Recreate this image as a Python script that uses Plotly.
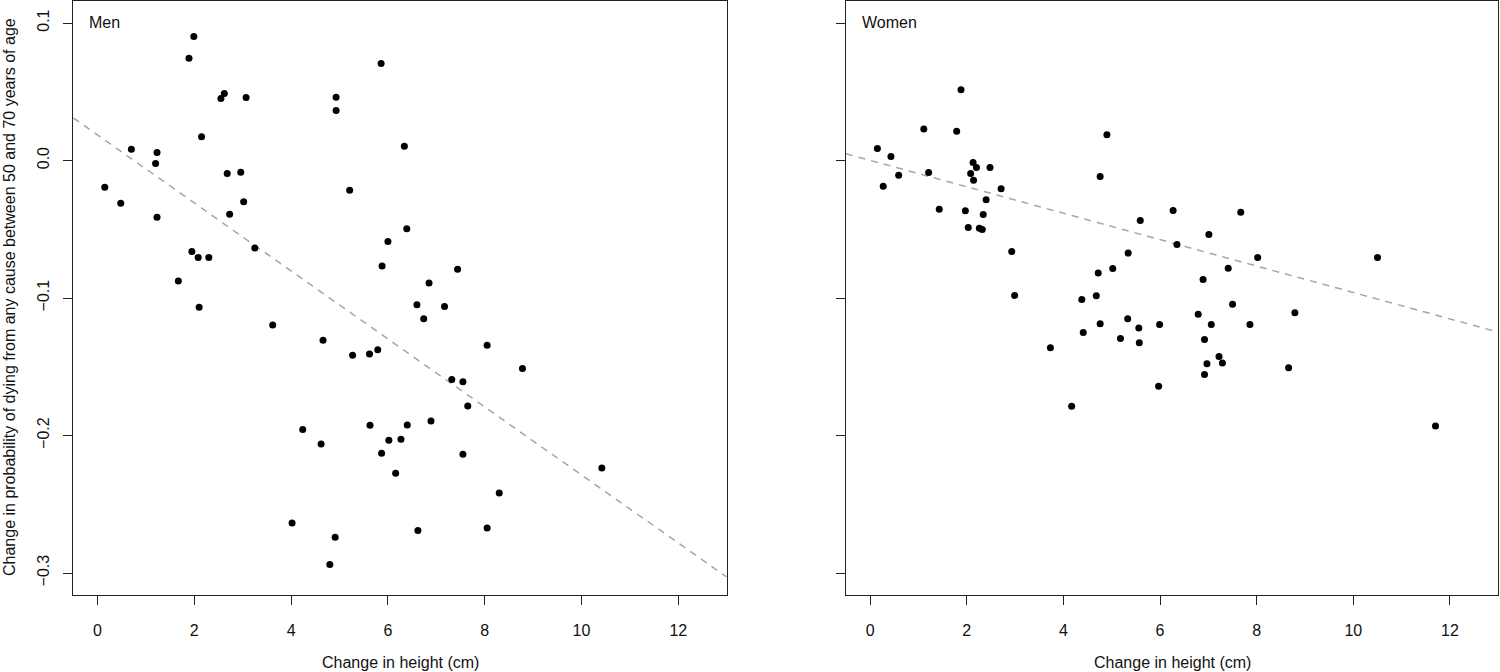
import plotly.graph_objects as go

# ---------------- data ----------------
men_height = [0.15, 0.48, 0.70, 1.23, 1.20, 1.23, 1.89, 1.99, 2.15, 2.55, 2.62, 3.07,
              2.68, 2.96, 3.02, 2.73, 3.25, 1.95, 2.08, 2.30, 1.67, 2.10, 4.93, 4.93,
              5.86, 5.21, 6.00, 5.88, 3.62, 4.66, 5.27, 5.62, 5.79, 4.24, 4.62, 5.63,
              6.02, 5.87, 6.16, 4.02, 4.91, 4.80, 6.34, 6.39, 7.44, 6.85, 6.60, 7.17,
              6.74, 8.05, 8.78, 7.32, 7.55, 7.65, 6.89, 6.40, 6.27, 7.55, 10.42, 8.30,
              6.62, 8.05]
men_change = [-0.0194, -0.031, 0.0082, 0.0058, -0.0022, -0.0412, 0.0744, 0.0901, 0.0172,
              0.0451, 0.0487, 0.0458, -0.0094, -0.0085, -0.030, -0.039, -0.0637, -0.0661,
              -0.0705, -0.0705, -0.0877, -0.1068, 0.046, 0.0363, 0.0705, -0.0216, -0.0589,
              -0.0768, -0.1197, -0.1308, -0.1417, -0.1408, -0.1376, -0.1957, -0.2062,
              -0.1926, -0.2035, -0.2129, -0.2275, -0.2636, -0.274, -0.2939, 0.0104,
              -0.0497, -0.079, -0.0891, -0.1049, -0.1061, -0.115, -0.1344, -0.1512,
              -0.1592, -0.1609, -0.1785, -0.1894, -0.1923, -0.2028, -0.2137, -0.2236,
              -0.2418, -0.2691, -0.2672]

women_height = [0.15, 0.43, 0.59, 0.27, 1.11, 1.21, 1.43, 1.79, 1.88, 2.13, 2.20, 2.08,
                2.14, 2.48, 2.71, 2.40, 1.97, 2.34, 2.03, 2.26, 2.32, 2.93, 2.99, 4.90,
                4.76, 6.27, 5.59, 6.35, 5.34, 5.02, 4.72, 4.38, 4.68, 5.33, 4.76, 4.41,
                5.56, 5.99, 5.18, 5.57, 3.73, 5.97, 4.17, 7.67, 7.01, 8.02, 10.50, 7.41,
                6.89, 7.50, 8.79, 6.79, 7.06, 7.86, 6.92, 7.22, 6.97, 7.29, 8.66, 6.92,
                11.70]
women_change = [0.0087, 0.0029, -0.0107, -0.0187, 0.023, -0.0087, -0.0354, 0.0213, 0.0514,
                -0.0015, -0.0051, -0.0094, -0.0143, -0.0051, -0.0206, -0.0286, -0.0366,
                -0.0392, -0.0487, -0.0492, -0.0501, -0.0661, -0.0981, 0.0187, -0.0116,
                -0.0363, -0.0436, -0.061, -0.0673, -0.0785, -0.0819, -0.101, -0.0983,
                -0.115, -0.1187, -0.125, -0.1219, -0.1192, -0.1294, -0.1325, -0.1361,
                -0.1642, -0.1788, -0.0376, -0.0538, -0.0706, -0.0706, -0.0784, -0.0865,
                -0.1046, -0.1108, -0.1118, -0.1193, -0.1193, -0.1302, -0.1426, -0.1479,
                -0.1473, -0.1507, -0.1557, -0.1931]

# fitted regression lines (intercept, slope)
men_fit = (0.0186, -0.02473)
women_fit = (0.0001, -0.00961)

x_tick_values = [0, 2, 4, 6, 8, 10, 12]
x_tick_labels = ["0", "2", "4", "6", "8", "10", "12"]
y_tick_values = [0.1, 0.0, -0.1, -0.2, -0.3]
y_tick_labels = ["0.1", "0.0", "\u22120.1", "\u22120.2", "\u22120.3"]

panel_names = ["Men", "Women"]
x_title = "Change in height (cm)"
y_title = "Change in probability of dying from any cause between 50 and 70 years of age"

x_range = [-0.5, 13.0]
y_range = [-0.316, 0.116]

# ---------------- figure ----------------
FONT = "Liberation Sans, Arial, Helvetica, sans-serif"
FS = 16
W, H = 1500, 672

fig = go.Figure()

for i, (xs, ys, fit) in enumerate([(men_height, men_change, men_fit),
                                   (women_height, women_change, women_fit)]):
    xa = "x" if i == 0 else "x2"
    ya = "y" if i == 0 else "y2"
    fig.add_trace(go.Scatter(
        x=x_range, y=[fit[0] + fit[1] * v for v in x_range],
        mode="lines", line=dict(color="#a6a6a6", width=1.5, dash="7px,6px"),
        xaxis=xa, yaxis=ya, showlegend=False, hoverinfo="skip"))
    fig.add_trace(go.Scatter(
        x=xs, y=ys, mode="markers",
        marker=dict(color="black", size=7, line=dict(width=0)),
        xaxis=xa, yaxis=ya, showlegend=False))

axis_common = dict(
    showgrid=False, zeroline=False, showline=True, mirror=True,
    linecolor="#222", linewidth=1.3,
    ticks="outside", ticklen=9, tickwidth=1.1, tickcolor="#222",
    tickfont=dict(family=FONT, size=FS, color="#111"),
)

left_dom = [73.3 / W, 726.7 / W]
right_dom = [846 / W, 1498.3 / W]
y_dom = [1 - 595 / H, 1 - 1 / H]

fig.update_layout(
    width=W, height=H, autosize=False,
    margin=dict(l=0, r=0, t=0, b=0),
    paper_bgcolor="white", plot_bgcolor="white",
    font=dict(family=FONT, size=FS, color="#111"),
    xaxis=dict(domain=left_dom, range=x_range, tickvals=x_tick_values,
               ticktext=x_tick_labels, anchor="y", ticklabelstandoff=12, **axis_common),
    xaxis2=dict(domain=right_dom, range=x_range, tickvals=x_tick_values,
                ticktext=x_tick_labels, anchor="y2", ticklabelstandoff=12, **axis_common),
    yaxis=dict(domain=y_dom, range=y_range, tickvals=y_tick_values,
               ticktext=y_tick_labels, tickangle=-90, anchor="x",
               ticklabelstandoff=8, **axis_common),
    yaxis2=dict(domain=y_dom, range=y_range, tickvals=y_tick_values,
                ticktext=y_tick_labels, showticklabels=False, anchor="x2", **axis_common),
)

annotations = []
# panel names
for name, px in zip(panel_names, [87, 860]):
    annotations.append(dict(text=name, x=px / W, y=1 - 23 / H, xref="paper", yref="paper",
                            xanchor="left", yanchor="middle", showarrow=False,
                            font=dict(family=FONT, size=FS, color="#111")))
# x titles
for cx in [400, 1172]:
    annotations.append(dict(text=x_title, x=cx / W, y=1 - 662 / H, xref="paper", yref="paper",
                            xanchor="center", yanchor="middle", showarrow=False,
                            font=dict(family=FONT, size=FS, color="#111")))
# y title
annotations.append(dict(text=y_title, x=9 / W, y=1 - 297 / H, xref="paper", yref="paper",
                        xanchor="center", yanchor="middle", textangle=-90, showarrow=False,
                        font=dict(family=FONT, size=FS, color="#111")))
fig.update_layout(annotations=annotations)

fig.write_html("out.html", config={"displayModeBar": False},
               post_script="document.body.style.margin='0';document.body.style.padding='0';"
                           "document.body.style.overflow='hidden';")
